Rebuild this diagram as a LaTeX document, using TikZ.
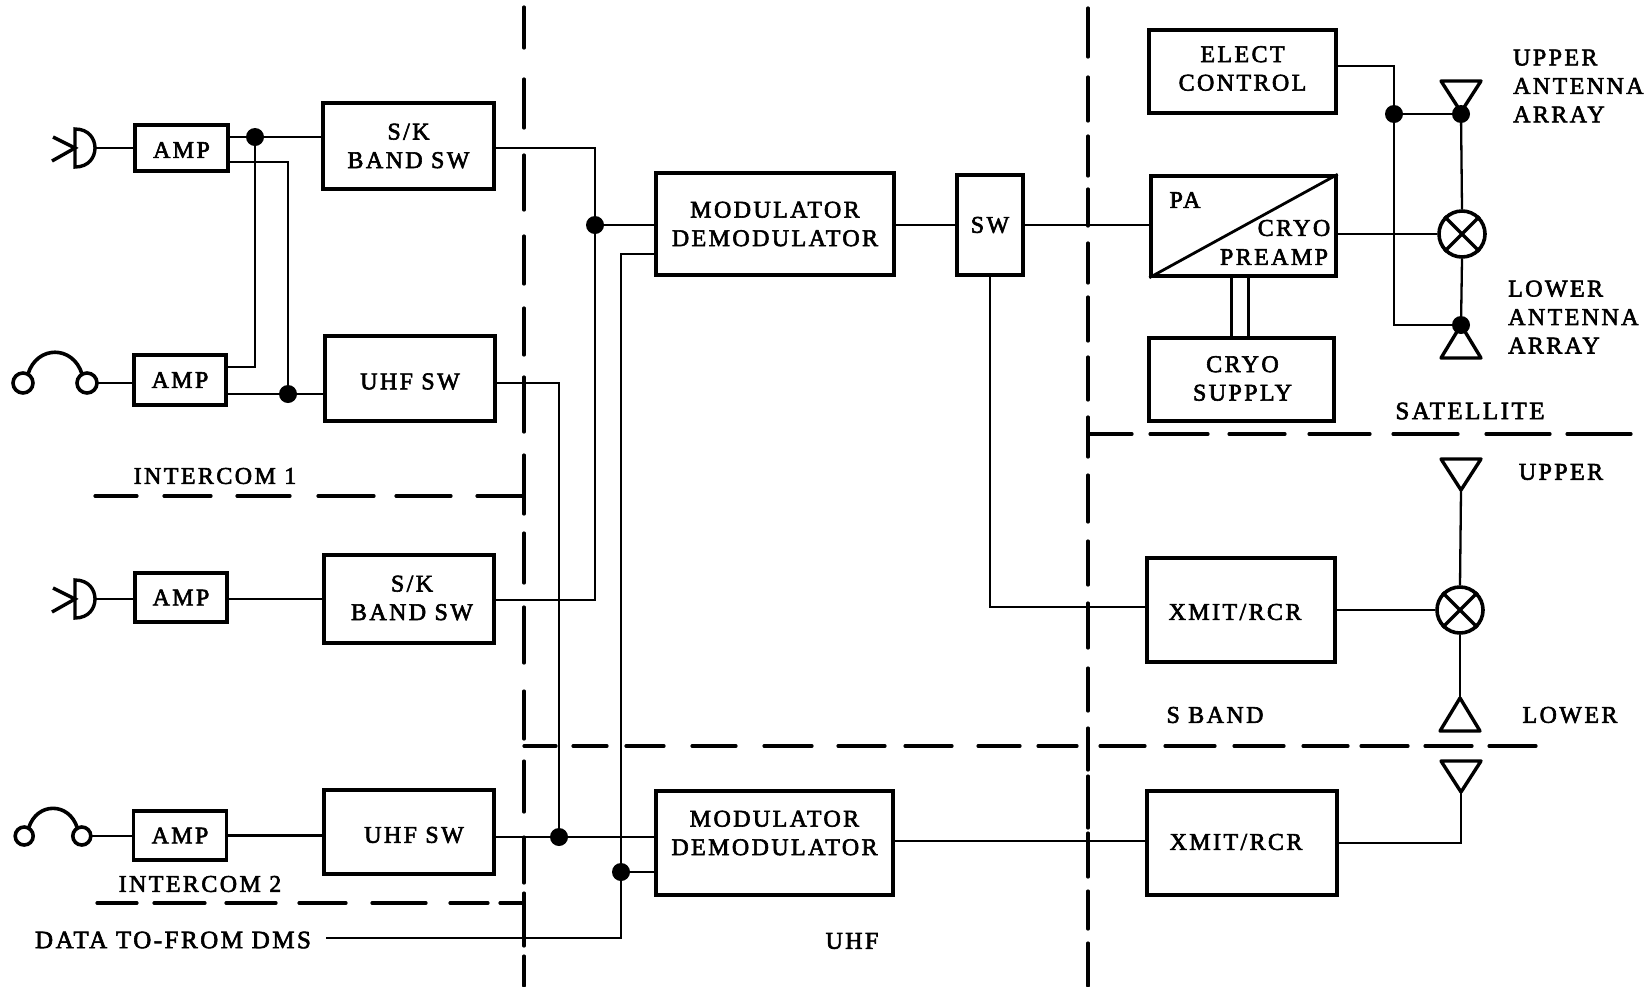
\documentclass[tikz,border=0pt]{standalone}
\usepackage{fontspec}
\setmainfont[LetterSpace=10,FakeBold=2.5]{Liberation Serif}
\usetikzlibrary{positioning,calc}

\begin{document}
\begin{tikzpicture}[
  x=1pt, y=-1pt,
  font=\fontsize{24}{28.5}\selectfont,
  blockbox/.style={
    draw, line width=3.4pt, align=center, inner sep=0pt},
  wire/.style={line width=2.3pt},
  bound/.style={line width=3.2pt, line cap=round},
  dot/.style={circle, fill=black, inner sep=0pt, minimum size=18pt},
  mixer/.style={circle, draw, fill=white, line width=3.6pt, inner sep=0pt, minimum size=46pt},
  lbl/.style={align=left, inner sep=0pt},
  wide/.style={font=\fontsize{25}{28.5}\selectfont},
  micsym/.pic={
    \draw[line width=3.4pt] (0,-19) .. controls (14,-19) and (20,-9) .. (20,0)
      .. controls (20,9) and (14,19) .. (0,19) -- cycle;
    \draw[line width=3.4pt] (-22,-11) -- (0,0) -- (-23,13);
  },
  phones/.pic={
    \draw[line width=3.6pt] (-32,0) circle (10) (32,0) circle (10);
    \draw[line width=3.6pt] (-27,-9) .. controls (-18,-38) and (18,-38) .. (27,-9);
  },
  antdown/.pic={\draw[line width=3.4pt, line join=round] (0,0) -- (-20,-31) -- (20,-31) -- cycle;},
  antup/.pic={\draw[line width=3.4pt, line join=round] (0,0) -- (-20,33) -- (20,33) -- cycle;},
]
  \useasboundingbox (0,0) rectangle (1648,986);

  %% ---- Intercom blocks ----
  \node[blockbox, minimum width=93pt, minimum height=46pt, label={[yshift=-2pt]center:AMP}] (amp1) at (181.5,148) {};
  \node[blockbox, minimum width=171pt, minimum height=86pt] (skb1) at (408.5,146) {S/K\\BAND SW};
  \node[blockbox, minimum width=92pt, minimum height=50pt] (amp2) at (180,380) {AMP};
  \node[blockbox, minimum width=170pt, minimum height=85pt, label={[yshift=-3pt]center:UHF SW}] (uhf1) at (410,378.5) {};
  \node[blockbox, minimum width=92pt, minimum height=49pt] (amp3) at (181,597.5) {AMP};
  \node[blockbox, minimum width=170pt, minimum height=88pt, label={[align=center,xshift=3pt,yshift=1pt]center:{S/K\\BAND SW}}] (skb2) at (409,599) {};
  \node[blockbox, minimum width=93pt, minimum height=49pt] (amp4) at (180,835.5) {AMP};
  \node[blockbox, minimum width=170pt, minimum height=84pt, label={[xshift=5pt,yshift=-3pt]center:UHF SW}] (uhf2) at (409,832) {};

  %% ---- Modem and switch ----
  \node[blockbox, minimum width=238pt, minimum height=102pt] (mod1) at (775,224) {MODULATOR\\DEMODULATOR};
  \node[blockbox, minimum width=237pt, minimum height=104pt, label={[align=center,yshift=10pt]center:{MODULATOR\\DEMODULATOR}}] (mod2) at (774.5,843) {};
  \node[blockbox, minimum width=66pt, minimum height=100pt] (sw) at (990,225) {SW};

  %% ---- Right hand blocks ----
  \node[blockbox, minimum width=187pt, minimum height=83pt, label={[align=center,yshift=3pt]center:{ELECT\\CONTROL}}] (elect) at (1242.5,71.5) {};
  \node[blockbox, minimum width=185pt, minimum height=100pt] (pa) at (1243.5,226) {};
  \node[blockbox, minimum width=185pt, minimum height=83pt, label={[align=center,xshift=1pt,yshift=1pt]center:{CRYO\\SUPPLY}}] (cryo) at (1241.5,379.5) {};
  \node[blockbox, minimum width=188pt, minimum height=104pt, label={[xshift=-6pt,yshift=-2pt]center:XMIT/RCR}] (xmit1) at (1241,610) {};
  \node[blockbox, minimum width=190pt, minimum height=104pt, label={[xshift=-6pt,yshift=1pt]center:XMIT/RCR}] (xmit2) at (1242,843) {};
  \draw[line width=2.8pt] (pa.south west) -- (pa.north east);
  \node[lbl] (palbl) at (1185,200) {PA};
  \node[lbl] (crlbl) at (1294,228) {CRYO};
  \node[lbl] (prlbl) at (1274,257) {PREAMP};

  %% ---- Mixers ----
  \node[mixer] (mix1) at (1462,234) {};
  \node[mixer] (mix2) at (1460,610) {};
  \foreach \m in {mix1,mix2}{
    \draw[line width=3.4pt] (\m.north west) -- (\m.south east);
    \draw[line width=3.4pt] (\m.north east) -- (\m.south west);
  }

  %% ---- Symbols ----
  \coordinate (mic1) at (95,148);
  \coordinate (mic2) at (95,599);
  \coordinate (hs1) at (96,383);
  \coordinate (hs2) at (91,836);
  \coordinate (antA) at (1461,112);
  \coordinate (antB) at (1461,325);
  \coordinate (antC) at (1461,490);
  \coordinate (antD) at (1460,698);
  \coordinate (antE) at (1461,792);
  \pic at (75,148) {micsym};
  \pic at (75,599) {micsym};
  \pic at (55,383) {phones};
  \pic[scale=0.9] at (53,836) {phones};
  \pic at (antA) {antdown};
  \pic at (antB) {antup};
  \pic at (antC) {antdown};
  \pic at (antD) {antup};
  \pic at (antE) {antdown};

  %% ---- Junctions ----
  \node[dot] (j1) at (255,137) {};
  \node[dot] (j2) at (288,394) {};
  \node[dot] (j3) at (595,225) {};
  \node[dot] (j4) at (559,837) {};
  \node[dot] (j5) at (621,872) {};
  \node[dot] (j6) at (1394,114) {};
  \node[dot] (j7) at (1461,114) {};
  \node[dot] (j8) at (1461,325) {};

  %% ---- Left side wiring ----
  \draw[wire] (mic1) -- (mic1 -| amp1.west);
  \draw[wire] (mic2) -- (mic2 -| amp3.west);
  \draw[wire] (hs1) -- (hs1 -| amp2.west);
  \draw[wire] (hs2) -- (hs2 -| amp4.west);
  \draw[wire] (j1 -| amp1.east) -- (j1) -- (j1 -| skb1.west);
  \draw[wire] (j1) -- (255,367) -- (amp2.east |- 0,367);
  \draw[wire] (amp1.east |- 0,162) -- (288,162) -- (j2);
  \draw[wire] (j2 -| amp2.east) -- (j2) -- (j2 -| uhf1.west);
  \draw[wire] (amp3.east |- 0,599) -- (skb2.west |- 0,599);
  \draw[wire] (amp4.east) -- (uhf2.west |- amp4.east);

  %% ---- Switch to modem wiring ----
  \draw[wire] (skb1.east |- 0,148) -- (j3 |- 0,148) -- (j3) -- (j3 |- 0,600) -- (skb2.east |- 0,600);
  \draw[wire] (j3) -- (j3 -| mod1.west);
  \draw[wire] (uhf1.east |- 0,383) -- (j4 |- 0,383) -- (j4);
  \draw[wire] (uhf2.east |- j4) -- (j4) -- (j4 -| mod2.west);
  \draw[wire] (mod1.west |- 0,254) -- (j5 |- 0,254) -- (j5) -- (j5 |- 0,938) -- (326,938);
  \draw[wire] (j5) -- (j5 -| mod2.west);

  %% ---- Right side wiring ----
  \draw[wire] (mod1.east |- sw.west) -- (sw.west);
  \draw[wire] (sw.east) -- (sw.east -| pa.west);
  \draw[wire] (sw.south) -- (sw.south |- 0,607) -- (xmit1.west |- 0,607);
  \draw[wire] (mod2.east |- 0,841) -- (xmit2.west |- 0,841);
  \draw[wire] (elect.east |- 0,66) -- (j6 |- 0,66) -- (j6) -- (j6 |- j8) -- (j8);
  \draw[wire] (j6) -- (j7);
  \draw[wire] (j7) -- (mix1.north);
  \draw[wire] (mix1.south) -- (j8);
  \draw[wire] (pa.east |- mix1.west) -- (mix1.west);
  \draw[wire] (antC) -- (mix2.north);
  \draw[wire] (mix2.south) -- (antD);
  \draw[wire] (xmit1.east |- mix2.west) -- (mix2.west);
  \draw[wire] (antE) -- (antE |- 0,843) -- (xmit2.east |- 0,843);
  \draw[line width=3pt] (1231,276) -- (1231,338);
  \draw[line width=3pt] (1248,276) -- (1248,338);

  %% ---- Boundaries (broken by hand, the gaps are uneven) ----
  \foreach \a/\b in {7/48,79/128,155/210,236/284,308/355,377/432,455/514,533/583,
    607/663,691/739,761/812,837/883,893/946,956/986}{
    \draw[bound] (524,\a) -- (524,\b);
  }
  \foreach \a/\b in {8/57,77/121,136/176,189/226,243/283,297/341,357/400,417/457,
    475/522,541/585,603/648,668/711,728/770,776/828,833/877,891/929,943/986}{
    \draw[bound] (1088,\a) -- (1088,\b);
  }
  \foreach \a/\b in {524/556,573/607,626/664,692/736,764/812,838/885,905/952,978/1020,
    1038/1077,1100/1145,1165/1215,1234/1284,1303/1348,1361/1408,1425/1472,1489/1536}{
    \draw[bound] (\a,746) -- (\b,746);
  }
  \foreach \a/\b in {1088/1132,1150/1208,1229/1285,1309/1370,1393/1458,1486/1550,1567/1631}{
    \draw[bound] (\a,434) -- (\b,434);
  }
  \foreach \a/\b in {95/137,164/211,237/290,318/374,396/451,477/524}{
    \draw[bound] (\a,496) -- (\b,496);
  }
  \foreach \a/\b in {97/137,154/205,226/276,299/346,372/426,450/488,500/524}{
    \draw[bound] (\a,903) -- (\b,903);
  }

  %% ---- Labels ----
  \node[lbl] (iclbl1) at (215,476) {INTERCOM 1};
  \node[lbl] (iclbl2) at (200,884) {INTERCOM 2};
  \node[lbl, wide] (datalbl) at (173,940) {DATA TO-FROM DMS};
  \node[lbl] (uhflbl) at (852,941) {UHF};
  \node[lbl] (sbandlbl) at (1215,715) {S BAND};
  \node[lbl, anchor=west] (uplbl) at (1513,86) {UPPER\\ANTENNA\\ARRAY};
  \node[lbl, anchor=west] (lolbl) at (1508,317) {LOWER\\ANTENNA\\ARRAY};
  \node[lbl, wide] (satlbl) at (1470,411) {SATELLITE};
  \node[lbl] (up2lbl) at (1561,472) {UPPER};
  \node[lbl] (lo2lbl) at (1570,715) {LOWER};

\end{tikzpicture}
\end{document}
